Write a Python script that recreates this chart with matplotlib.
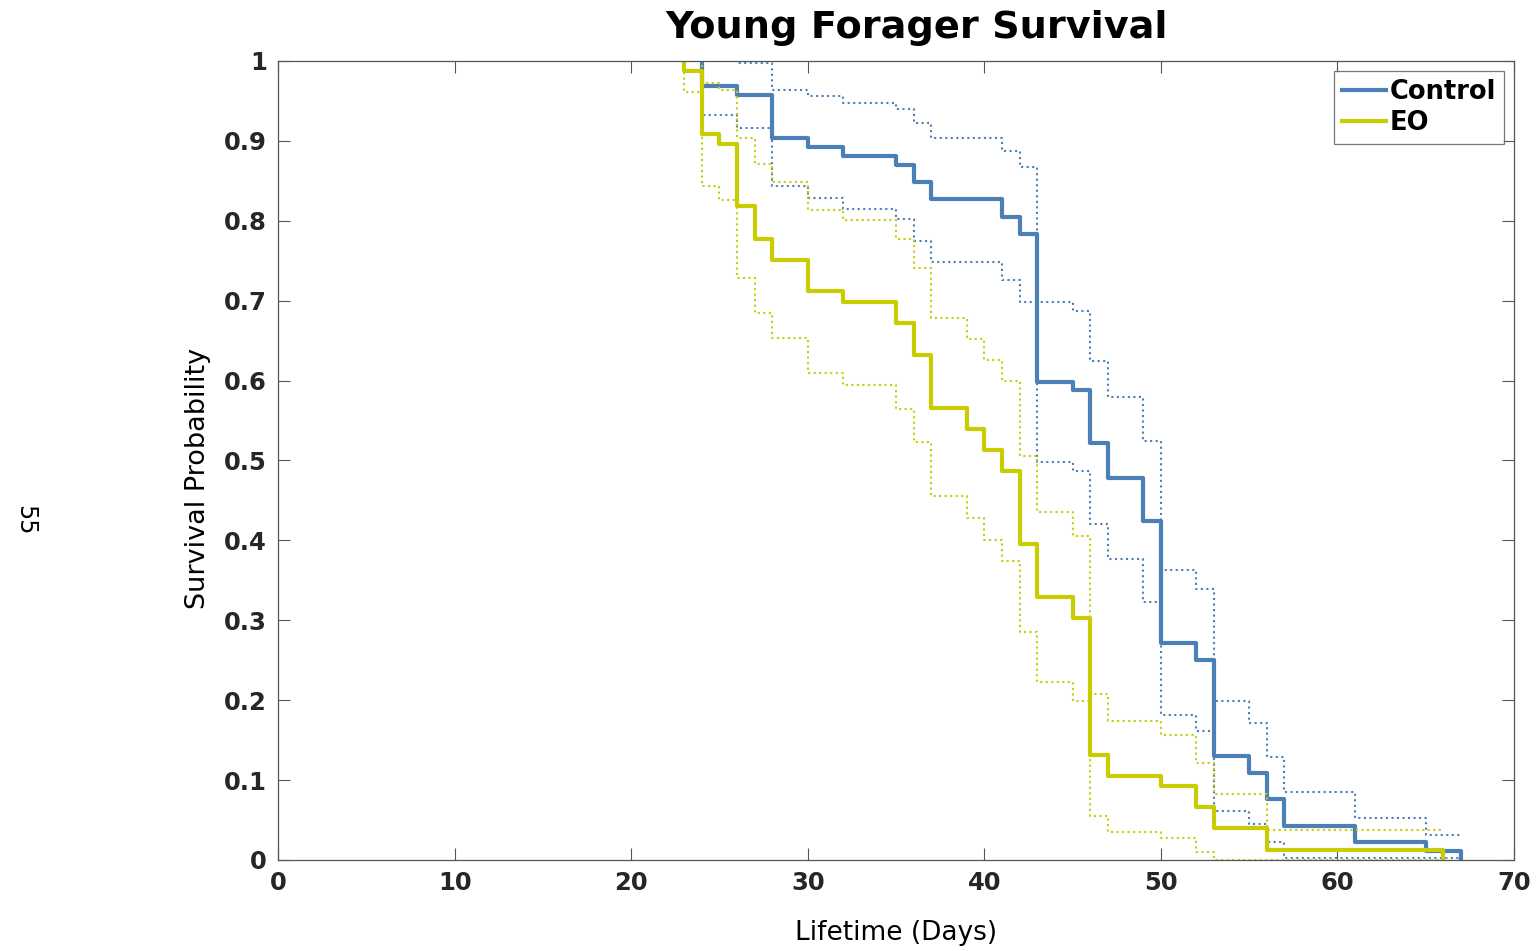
import numpy as np
import matplotlib.pyplot as plt

# Kaplan-Meier curves (days, survival)
ctrl_t = [24, 24, 26, 28, 30, 32, 35, 36, 37, 41, 42, 43, 45, 46, 47, 49, 50, 52, 53, 55, 56, 57, 61, 65, 67]
ctrl_s = [1, 0.969, 0.957, 0.904, 0.892, 0.881, 0.870, 0.849, 0.827, 0.805, 0.784, 0.598, 0.588,
          0.522, 0.478, 0.424, 0.272, 0.250, 0.130, 0.109, 0.076, 0.043, 0.022, 0.011, 0]

ctrl_up_t = [24, 26, 28, 30, 32, 35, 36, 37, 41, 42, 43, 45, 46, 47, 49, 50, 52, 53, 55, 56, 57, 61, 65, 67]
ctrl_up = [1, 0.997, 0.964, 0.956, 0.947, 0.940, 0.922, 0.904, 0.887, 0.867, 0.698, 0.687, 0.624,
           0.580, 0.524, 0.363, 0.339, 0.199, 0.172, 0.129, 0.085, 0.052, 0.031, 0.031]

ctrl_lo_t = [24, 24, 26, 28, 30, 32, 35, 36, 37, 41, 42, 43, 45, 46, 47, 49, 50, 52, 53, 55, 56, 57, 67]
ctrl_lo = [1, 0.932, 0.916, 0.843, 0.829, 0.815, 0.802, 0.775, 0.749, 0.726, 0.698, 0.498, 0.487,
           0.421, 0.377, 0.323, 0.181, 0.161, 0.061, 0.045, 0.022, 0.003, 0.003]

eo_t = [23, 23, 24, 25, 26, 27, 28, 30, 32, 35, 36, 37, 39, 40, 41, 42, 43, 45, 46, 47, 50, 52, 53, 56, 66]
eo_s = [1, 0.987, 0.909, 0.896, 0.818, 0.777, 0.751, 0.712, 0.698, 0.672, 0.632, 0.566, 0.539,
        0.513, 0.487, 0.395, 0.329, 0.303, 0.132, 0.105, 0.093, 0.066, 0.040, 0.013, 0]

eo_up_t = [23, 24, 25, 26, 27, 28, 30, 32, 35, 36, 37, 39, 40, 41, 42, 43, 45, 46, 47, 50, 52, 53, 56, 66]
eo_up = [1, 0.973, 0.964, 0.904, 0.871, 0.849, 0.814, 0.801, 0.777, 0.741, 0.678, 0.652, 0.626,
         0.600, 0.505, 0.435, 0.405, 0.208, 0.174, 0.157, 0.122, 0.083, 0.038, 0.038]

eo_lo_t = [23, 23, 24, 25, 26, 27, 28, 30, 32, 35, 36, 37, 39, 40, 41, 42, 43, 45, 46, 47, 50, 52, 53, 66]
eo_lo = [1, 0.961, 0.843, 0.826, 0.728, 0.684, 0.653, 0.609, 0.594, 0.565, 0.523, 0.455, 0.428,
         0.401, 0.374, 0.285, 0.223, 0.199, 0.055, 0.035, 0.027, 0.010, 0, 0]

xticks = [0, 10, 20, 30, 40, 50, 60, 70]
yticks = [0, 0.1, 0.2, 0.3, 0.4, 0.5, 0.6, 0.7, 0.8, 0.9, 1]
ylabels = ['0', '0.1', '0.2', '0.3', '0.4', '0.5', '0.6', '0.7', '0.8', '0.9', '1']

blue = '#4a7fb8'
yellow = '#c9cc00'

plt.rcParams['font.family'] = ['DejaVu Sans']

fig = plt.figure(figsize=(15.37, 9.51), dpi=100)
ax = fig.add_axes([0.1809, 0.0957, 0.985 - 0.1809, 0.9359 - 0.0957])

ax.step(ctrl_t, ctrl_s, where='post', color=blue, lw=3, label='Control')
ax.step(ctrl_up_t, ctrl_up, where='post', color=blue, lw=1.5, ls=':')
ax.step(ctrl_lo_t, ctrl_lo, where='post', color=blue, lw=1.5, ls=':')
ax.step(eo_t, eo_s, where='post', color=yellow, lw=3, label='EO')
ax.step(eo_up_t, eo_up, where='post', color=yellow, lw=1.5, ls=':')
ax.step(eo_lo_t, eo_lo, where='post', color=yellow, lw=1.5, ls=':')

ax.set_xlim(0, 70)
ax.set_ylim(0, 1)
ax.set_xticks(xticks)
ax.set_yticks(yticks)
ax.set_yticklabels(ylabels)
ax.tick_params(direction='in', length=8.5, width=0.8, top=True, right=True,
               labelsize=17.5, colors='#555555', labelcolor='#262626', pad=8)
for lab in ax.get_xticklabels() + ax.get_yticklabels():
    lab.set_fontweight('bold')
for sp in ax.spines.values():
    sp.set_color('#555555')
    sp.set_linewidth(0.9)

ax.set_xlabel('Lifetime (Days)', fontsize=19, labelpad=18, fontweight='medium')
ax.set_ylabel('Survival Probability', fontsize=19.5, fontweight='medium')
ax.yaxis.set_label_coords(-0.054, 0.477)
fig.text(917 / 1537, 1 - 28 / 951, 'Young Forager Survival', fontsize=27.5, fontweight='bold',
         ha='center', va='center')
fig.text(25 / 1537, 1 - 520 / 951, '55', fontsize=17, rotation=270, ha='center', va='center')

leg = ax.legend(loc='upper right', fontsize=18.5, frameon=True, fancybox=False,
                handlelength=1.7, handletextpad=0.15, borderpad=0.3, labelspacing=0.2,
                borderaxespad=0.4)
leg.get_frame().set_edgecolor('#555555')
leg.get_frame().set_linewidth(0.9)
for t in leg.get_texts():
    t.set_fontweight('bold')

fig.savefig('out.png', dpi=100)
